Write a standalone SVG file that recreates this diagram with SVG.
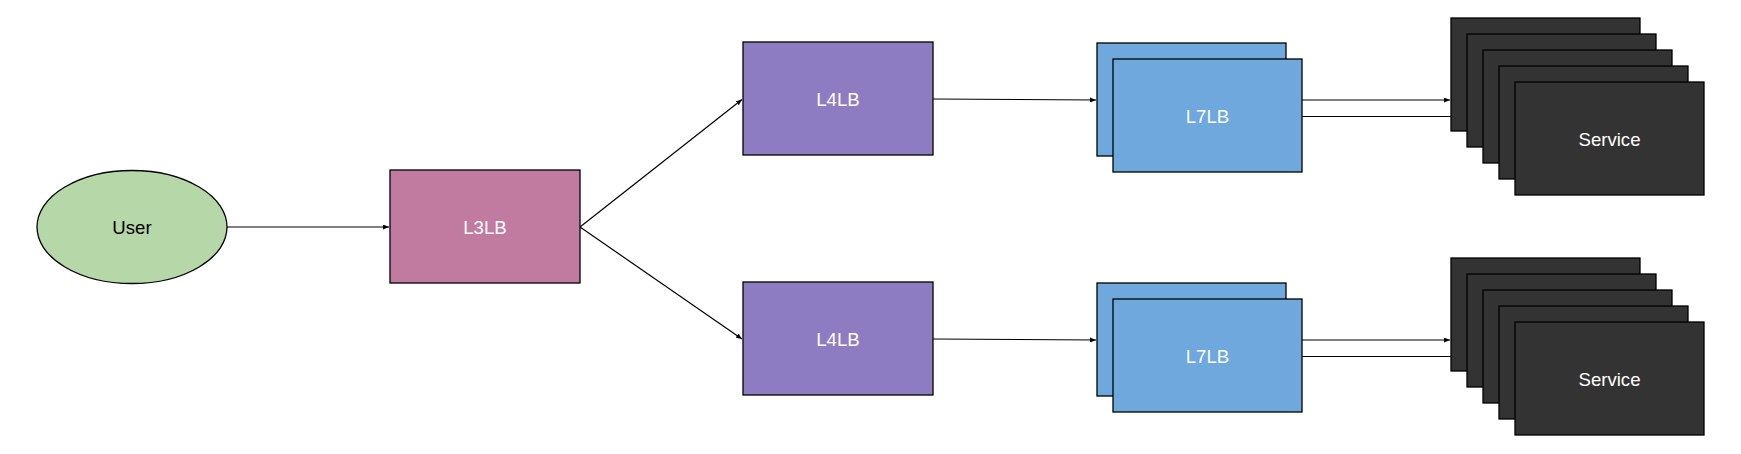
<svg xmlns="http://www.w3.org/2000/svg" width="1741" height="454" viewBox="0 0 1741 454">
  <style>
    .box { stroke: #000000; stroke-width: 1.3; }
    .user { fill: #b6d7a8; }
    .l3 { fill: #c27ba0; }
    .l4 { fill: #8e7cc3; }
    .l7 { fill: #6fa8dc; }
    .svc { fill: #333333; }
    .lbl { font-family: "Liberation Sans", Arial, sans-serif; font-size: 18.6px; text-anchor: middle; dominant-baseline: central; fill: #ffffff; }
    .dark { fill: #000000; }
    .edge { stroke: #000000; stroke-width: 1.2; fill: none; marker-end: url(#arr); }
  </style>
  <defs>
    <marker id="arr" markerUnits="userSpaceOnUse" markerWidth="6" markerHeight="5" refX="6" refY="2.5" orient="auto">
      <path d="M0,0 L6,2.5 L0,5 z" fill="#000000"/>
    </marker>
  </defs>
  <rect width="1741" height="454" fill="#ffffff"/>

  <g id="connectors">
    <line class="edge" x1="227" y1="227" x2="389" y2="227"/>
    <line class="edge" x1="580" y1="227" x2="742" y2="99.5"/>
    <line class="edge" x1="580" y1="227" x2="742" y2="339"/>
    <line class="edge" x1="933" y1="99" x2="1096" y2="100"/>
    <line class="edge" x1="933" y1="339" x2="1096" y2="340"/>
    <line class="edge" x1="1302" y1="100" x2="1450" y2="100"/>
    <line class="edge" x1="1302" y1="116.5" x2="1466" y2="116.5"/>
    <line class="edge" x1="1302" y1="340" x2="1450" y2="340"/>
    <line class="edge" x1="1302" y1="356.5" x2="1466" y2="356.5"/>
  </g>

  <g id="user">
    <ellipse class="box user" cx="132" cy="227" rx="95" ry="56.5"/>
    <text class="lbl dark" x="132" y="227">User</text>
  </g>

  <g id="l3lb">
    <rect class="box l3" x="390" y="170" width="190" height="113"/>
    <text class="lbl" x="485" y="227">L3LB</text>
  </g>

  <g id="l4lb-top">
    <rect class="box l4" x="743" y="42" width="190" height="113"/>
    <text class="lbl" x="838" y="99">L4LB</text>
  </g>

  <g id="l4lb-bottom">
    <rect class="box l4" x="743" y="282" width="190" height="113"/>
    <text class="lbl" x="838" y="339">L4LB</text>
  </g>

  <g id="l7lb-top">
    <rect class="box l7" x="1097" y="43" width="189" height="113"/>
    <rect class="box l7" x="1113" y="59" width="189" height="113"/>
    <text class="lbl" x="1207.5" y="116">L7LB</text>
  </g>

  <g id="l7lb-bottom">
    <rect class="box l7" x="1097" y="283" width="189" height="113"/>
    <rect class="box l7" x="1113" y="299" width="189" height="113"/>
    <text class="lbl" x="1207.5" y="356">L7LB</text>
  </g>

  <g id="service-top">
    <rect class="box svc" x="1451" y="18" width="189" height="113"/>
    <rect class="box svc" x="1467" y="34" width="189" height="113"/>
    <rect class="box svc" x="1483" y="50" width="189" height="113"/>
    <rect class="box svc" x="1499" y="66" width="189" height="113"/>
    <rect class="box svc" x="1515" y="82" width="189" height="113"/>
    <text class="lbl" x="1609.5" y="139">Service</text>
  </g>

  <g id="service-bottom">
    <rect class="box svc" x="1451" y="258" width="189" height="113"/>
    <rect class="box svc" x="1467" y="274" width="189" height="113"/>
    <rect class="box svc" x="1483" y="290" width="189" height="113"/>
    <rect class="box svc" x="1499" y="306" width="189" height="113"/>
    <rect class="box svc" x="1515" y="322" width="189" height="113"/>
    <text class="lbl" x="1609.5" y="379">Service</text>
  </g>
</svg>
